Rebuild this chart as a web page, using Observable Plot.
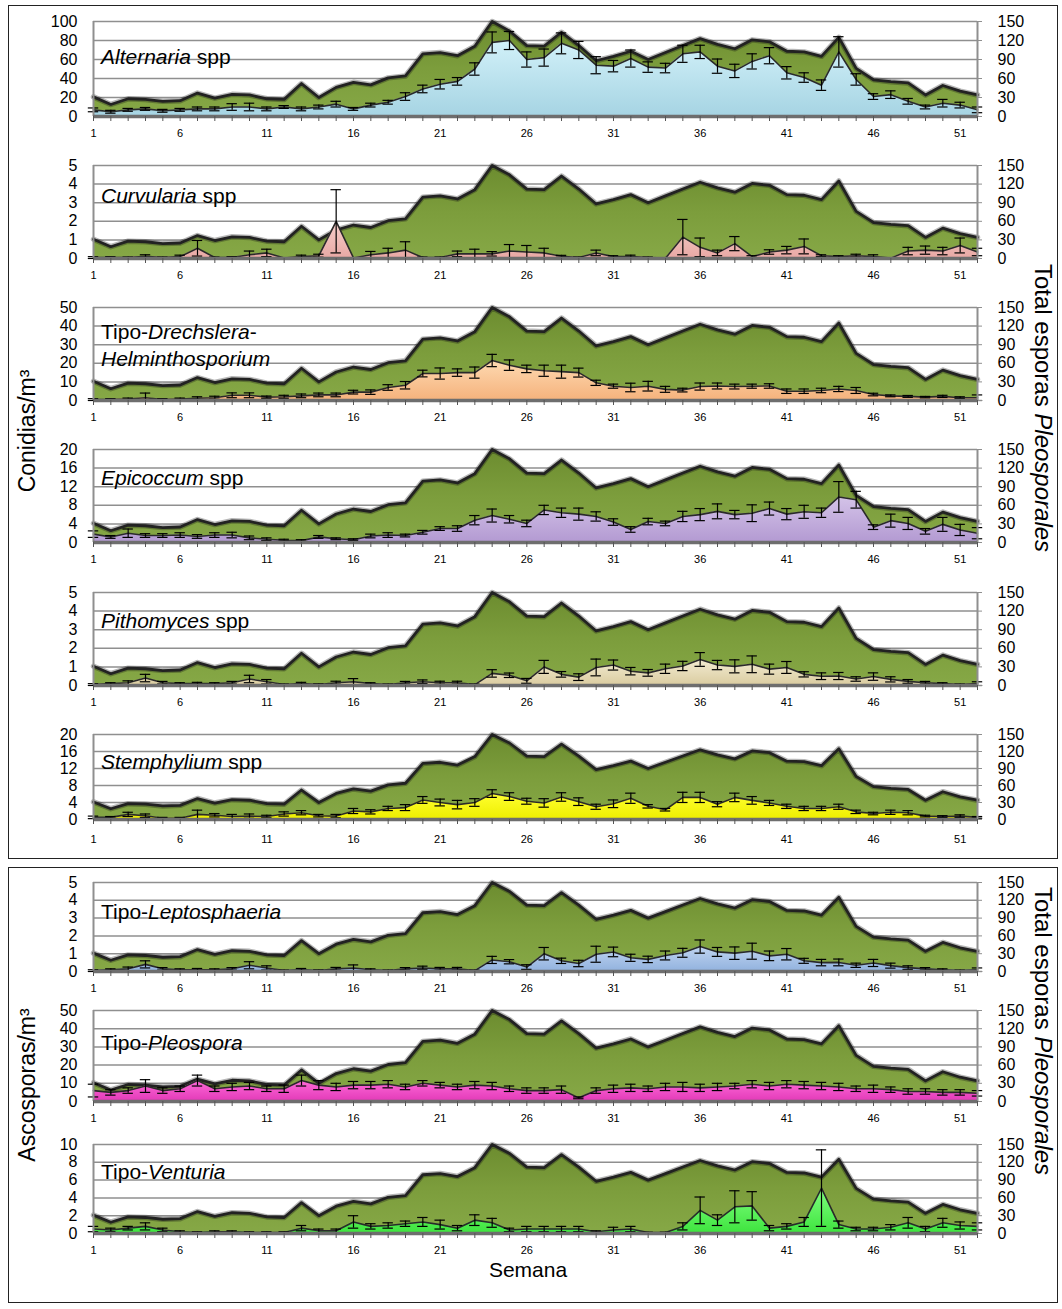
<!DOCTYPE html>
<html><head><meta charset="utf-8">
<script src="https://cdn.jsdelivr.net/npm/d3@7"></script>
<script src="https://cdn.jsdelivr.net/npm/@observablehq/plot@0.6"></script>
<style>
body{margin:0;background:#fff;}
#wrap{position:relative;width:1062px;height:1309px;font-family:"Liberation Sans",Arial,sans-serif;overflow:hidden;background:#fff}
.box{position:absolute;border:1px solid #222;}
.panel{position:absolute;left:0;}
.rotL,.rotR{position:absolute;white-space:nowrap;color:#000;}
.rotL{transform:translate(-50%,-50%) rotate(-90deg);font-size:23px;}
.rotR{transform:translate(-50%,-50%) rotate(90deg);font-size:24px;}
</style></head>
<body>
<svg width="0" height="0" style="position:absolute">
<defs>
<linearGradient id="gGreen" x1="0" y1="0" x2="0" y2="1"><stop offset="0" stop-color="#6c8c2f"/><stop offset="0.5" stop-color="#7c9d3c"/><stop offset="1" stop-color="#86a846"/></linearGradient>
<linearGradient id="g_alt" x1="0" y1="0" x2="0" y2="1"><stop offset="0" stop-color="#d2f1f9"/><stop offset="1" stop-color="#a6d4e3"/></linearGradient>
<linearGradient id="g_cur" x1="0" y1="0" x2="0" y2="1"><stop offset="0" stop-color="#f6d0cc"/><stop offset="1" stop-color="#e8a8a4"/></linearGradient>
<linearGradient id="g_dre" x1="0" y1="0" x2="0" y2="1"><stop offset="0" stop-color="#fedab2"/><stop offset="1" stop-color="#f5b27c"/></linearGradient>
<linearGradient id="g_epi" x1="0" y1="0" x2="0" y2="1"><stop offset="0" stop-color="#d4c3e8"/><stop offset="1" stop-color="#b39ad2"/></linearGradient>
<linearGradient id="g_pit" x1="0" y1="0" x2="0" y2="1"><stop offset="0" stop-color="#f3ecd3"/><stop offset="1" stop-color="#dacca0"/></linearGradient>
<linearGradient id="g_ste" x1="0" y1="0" x2="0" y2="1"><stop offset="0" stop-color="#ffff30"/><stop offset="1" stop-color="#eeee00"/></linearGradient>
<linearGradient id="g_lep" x1="0" y1="0" x2="0" y2="1"><stop offset="0" stop-color="#c0d5f1"/><stop offset="1" stop-color="#92b2de"/></linearGradient>
<linearGradient id="g_ple" x1="0" y1="0" x2="0" y2="1"><stop offset="0" stop-color="#ff6ad8"/><stop offset="1" stop-color="#e23ab8"/></linearGradient>
<linearGradient id="g_ven" x1="0" y1="0" x2="0" y2="1"><stop offset="0" stop-color="#80ff80"/><stop offset="1" stop-color="#3ee43e"/></linearGradient>
</defs></svg>
<div id="wrap">
  <div class="box" style="left:8px;top:5px;width:1048px;height:852px;"></div>
  <div class="box" style="left:8px;top:867px;width:1048px;height:434px;"></div>
  <div class="rotL" style="left:27px;top:431px;">Conidias/m³</div>
  <div class="rotL" style="left:27px;top:1085px;">Ascosporas/m³</div>
  <div class="rotR" style="left:1043px;top:408px;">Total esporas <i>Pleosporales</i></div>
  <div class="rotR" style="left:1043px;top:1031px;">Total esporas <i>Pleosporales</i></div>
  <div style="position:absolute;left:528px;top:1270px;transform:translate(-50%,-50%);font-size:21px;">Semana</div>
</div>
<script>
const weeks = [1,2,3,4,5,6,7,8,9,10,11,12,13,14,15,16,17,18,19,20,21,22,23,24,25,26,27,28,29,30,31,32,33,34,35,36,37,38,39,40,41,42,43,44,45,46,47,48,49,50,51,52];
const weekLabels = [1,6,11,16,21,26,31,36,41,46,51];
const rightTicks = [0,30,60,90,120,150];

// Total Pleosporales spores (right axis)
const totalPleosporales = [31,19,28,27,24,25,37,29,35,34, 28,27,52,30,46,54,50,61,64,99, 101,96,111,150,135,112,111,133,112,88, 95,103,90,101,112,123,114,107,121,118, 103,102,95,125,76,58,55,53,34,49, 40,34];

const alternariaMean = [7,5,7,8,6,7,8,8,10,10, 8,10,8,10,13,8,12,15,21,29, 34,37,50,78,80,60,62,77,70,54, 53,61,52,51,66,68,53,48,58,64, 46,41,33,68,39,21,23,16,10,14, 12,7];
const alternariaSE = [2,1.5,1.5,1.5,1.5,1.5,2,2,3.5,4, 2,1.5,2,2,3,1.5,2,2,4,4, 5,4,6.5,11,9.5,8,9,11,9,9, 6,9,5.5,5,9,7,7.5,7,8,8.5, 6.5,5,5.5,16,6,3,4,3,2,4, 3,3];

const curvulariaMean = [0.05,0.05,0.05,0.12,0.05,0.1,0.55,0.05,0.05,0.2, 0.3,0.03,0.1,0.15,2.0,0.03,0.2,0.3,0.45,0.05, 0.05,0.25,0.25,0.25,0.4,0.35,0.3,0.12,0.05,0.3, 0.1,0.1,0.05,0.02,1.15,0.6,0.3,0.8,0.1,0.35, 0.45,0.65,0.15,0.1,0.15,0.1,0.02,0.4,0.45,0.4, 0.7,0.35];
const curvulariaSE = [0.05,0.05,0.03,0.08,0.03,0.08,0.42,0.03,0.05,0.2, 0.2,0.02,0.08,0.08,1.7,0.02,0.18,0.25,0.45,0.03, 0.03,0.15,0.25,0.12,0.35,0.35,0.25,0.05,0.03,0.15, 0.05,0.08,0.03,0.01,0.95,0.5,0.15,0.38,0.05,0.12, 0.2,0.4,0.05,0.05,0.08,0.1,0.01,0.2,0.22,0.2, 0.4,0.2];

const drechsleraMean = [0.5,0.5,0.8,1.5,0.5,0.8,1.2,1.5,2.8,2.8, 1.8,2,2.5,3,3,4.5,4.5,7,8.2,14.5, 14.5,15,15,21.5,19,17,16,15.5,15,9.5, 7.7,7,7.7,6,5.6,7.5,7.8,7.5,7.7,7.8, 5,5,5.4,6.2,5.4,3.2,2.5,2.2,1.8,2.2, 1.5,1.5];
const drechsleraSE = [0.5,0.5,0.5,2.5,0.5,0.5,0.8,0.8,1.3,1.3, 0.6,0.8,1,1,1,1,1.2,1.5,2,1.8, 3,2,3,3.3,2.8,2,3,3.5,2.4,1.4, 1.1,2.3,2.6,1.6,1,1.9,1.6,1.3,1.1,1.2, 1.2,1.2,1.2,1.4,1.6,0.7,0.5,0.5,0.4,0.6, 0.5,1.5];

const epicoccumMean = [1.8,1.2,2.0,1.5,1.5,1.6,1.3,1.6,1.6,1.0, 0.7,0.5,0.4,1.2,0.8,0.6,1.4,1.6,1.5,2.2, 3.0,3.0,4.8,5.8,5.0,4.1,7.0,6.4,6.1,5.6, 4.4,2.8,4.5,4.1,5.6,6.0,6.7,6.0,6.3,7.3, 6.1,6.6,6.4,9.8,9.2,3.3,4.7,4.1,2.4,3.9, 2.7,2.0];
const epicoccumSE = [0.7,0.3,0.9,0.4,0.4,0.5,0.4,0.5,0.6,0.4, 0.3,0.2,0.2,0.3,0.2,0.2,0.4,0.5,0.3,0.4, 0.4,0.6,1.0,1.4,0.8,0.7,1.0,1.0,1.3,1.0, 0.7,0.6,0.7,0.5,1.1,1.3,1.6,0.9,1.8,1.4, 1.2,1.4,1.0,3.3,1.8,0.5,1.4,1.3,0.6,1.5, 1.2,1.2];

const pithomycesMean = [0.05,0.1,0.15,0.4,0.15,0.1,0.1,0.1,0.15,0.35, 0.2,0.05,0.1,0.05,0.15,0.2,0.1,0.05,0.15,0.2, 0.15,0.15,0.05,0.65,0.55,0.25,1.0,0.6,0.45,0.97, 1.1,0.77,0.68,0.9,1.05,1.4,1.1,1.03,1.14,0.88, 0.97,0.6,0.5,0.51,0.35,0.48,0.33,0.22,0.15,0.1, 0.05,0.1];
const pithomycesSE = [0.05,0.05,0.1,0.2,0.07,0.05,0.07,0.05,0.07,0.2, 0.12,0.03,0.07,0.04,0.08,0.17,0.05,0.03,0.07,0.1, 0.08,0.08,0.03,0.2,0.12,0.13,0.35,0.15,0.18,0.45, 0.27,0.2,0.18,0.25,0.25,0.37,0.25,0.35,0.45,0.27, 0.32,0.14,0.18,0.19,0.12,0.2,0.14,0.1,0.07,0.05, 0.03,0.1];

const stemphyliumMean = [0.5,0.5,1.2,0.9,0.3,0.3,1.2,1.0,0.7,0.8, 0.7,1.3,1.6,0.9,0.8,2.0,1.8,2.6,2.8,4.6, 4.0,3.5,4.0,6.1,5.4,4.3,3.9,5.3,4.2,3.0, 3.7,5.0,3.1,2.3,5.2,5.2,3.6,5.2,4.5,3.9, 3.1,2.6,2.6,3.0,1.8,1.4,1.7,1.6,0.8,0.7, 0.8,0.5];
const stemphyliumSE = [0.3,0.2,0.5,0.4,0.2,0.2,1.0,0.4,0.5,0.5, 0.3,0.5,0.5,0.3,0.4,0.6,0.5,0.5,0.7,0.8, 0.8,1.0,0.9,0.9,0.9,0.7,1.0,1.0,0.9,0.6, 0.9,1.2,0.4,0.3,1.2,1.2,0.6,1.0,0.9,0.6, 0.5,0.5,0.5,0.6,0.4,0.3,0.5,0.5,0.2,0.2, 0.3,0.2];

const leptosphaeriaMean = [0.05,0.1,0.15,0.4,0.15,0.1,0.1,0.1,0.15,0.35, 0.2,0.05,0.1,0.05,0.15,0.2,0.1,0.05,0.15,0.2, 0.15,0.15,0.05,0.65,0.55,0.25,1.0,0.6,0.45,0.97, 1.1,0.77,0.68,0.9,1.05,1.4,1.1,1.03,1.14,0.88, 0.97,0.6,0.5,0.51,0.35,0.48,0.33,0.22,0.15,0.1, 0.05,0.1];
const leptosphaeriaSE = [0.05,0.05,0.1,0.2,0.07,0.05,0.07,0.05,0.07,0.2, 0.12,0.03,0.07,0.04,0.08,0.17,0.05,0.03,0.07,0.1, 0.08,0.08,0.03,0.2,0.12,0.13,0.35,0.15,0.18,0.45, 0.27,0.2,0.18,0.25,0.25,0.37,0.25,0.35,0.45,0.27, 0.32,0.14,0.18,0.19,0.12,0.2,0.14,0.1,0.07,0.05, 0.03,0.1];

const pleosporaMean = [6,5,6,8.5,6,7,11.5,7,8,8.5, 7,7,11.5,9,8,9,9,9.5,8,10, 9,8,9,8.5,7,6,6,6.5,2,6, 7,7.5,7,8,8,7.5,8,8.5,9.5,8.5, 9.5,9,8.5,8,7,7,6.5,5.5,5.5,5, 5,4.5];
const pleosporaSE = [3.5,1.5,1.5,3.5,1.5,1.5,3,1.5,2,2, 1.5,2,3,2.5,2,2,2,2,1.5,1.5, 1.5,1.5,2,2,1.5,1.5,1.5,2,0.5,1.5, 2,2,1.5,2,2.5,2,2,1.5,2,2, 2,2,2,2,1.5,2,1.5,1.5,1.5,1.5, 1.5,1.5];

const venturiaMean = [0.5,0.4,0.6,0.8,0.4,0.2,0.1,0.2,0.2,0.1, 0.1,0.1,0.6,0.3,0.3,1.3,0.8,0.9,1.1,1.3, 1.0,0.6,1.5,1.2,0.4,0.5,0.5,0.5,0.5,0.2, 0.4,0.5,0.1,0.1,0.8,2.6,1.5,3.0,3.1,0.6, 0.8,1.3,5.1,1.0,0.5,0.5,0.7,1.2,0.5,1.2, 0.9,0.8];
const venturiaSE = [0.3,0.2,0.2,0.4,0.2,0.1,0.1,0.1,0.1,0.1, 0.1,0.1,0.3,0.2,0.2,0.7,0.3,0.3,0.3,0.5, 0.5,0.3,0.6,0.5,0.2,0.3,0.3,0.3,0.3,0.1, 0.3,0.3,0.05,0.05,0.4,1.5,0.6,1.8,1.6,0.3, 0.3,0.5,4.3,0.4,0.2,0.2,0.3,0.6,0.3,0.5, 0.4,0.4];

const panels = [
  {id:"alt", top:21, base:116, ticks:[0,20,40,60,80,100], mean:alternariaMean, se:alternariaSE, lines:[[["Alternaria",1],[" spp",0]]], dy:[43], mb:30, pad:8},
  {id:"cur", top:165, base:258, ticks:[0,1,2,3,4,5], mean:curvulariaMean, se:curvulariaSE, lines:[[["Curvularia",1],[" spp",0]]], dy:[38], mb:30, pad:8},
  {id:"dre", top:307, base:400, ticks:[0,10,20,30,40,50], mean:drechsleraMean, se:drechsleraSE, lines:[[["Tipo-",0],["Drechslera",1],["-",0]],[["Helminthosporium",1]]], dy:[32,59], mb:30, pad:8},
  {id:"epi", top:449, base:542, ticks:[0,4,8,12,16,20], mean:epicoccumMean, se:epicoccumSE, lines:[[["Epicoccum",1],[" spp",0]]], dy:[36], mb:30, pad:8},
  {id:"pit", top:592, base:685, ticks:[0,1,2,3,4,5], mean:pithomycesMean, se:pithomycesSE, lines:[[["Pithomyces",1],[" spp",0]]], dy:[36], mb:30, pad:8},
  {id:"ste", top:734, base:819, ticks:[0,4,8,12,16,20], mean:stemphyliumMean, se:stemphyliumSE, lines:[[["Stemphylium",1],[" spp",0]]], dy:[35], mb:34, pad:11},
  {id:"lep", top:882, base:971, ticks:[0,1,2,3,4,5], mean:leptosphaeriaMean, se:leptosphaeriaSE, lines:[[["Tipo-",0],["Leptosphaeria",1]]], dy:[37], mb:30, pad:8},
  {id:"ple", top:1010, base:1101, ticks:[0,10,20,30,40,50], mean:pleosporaMean, se:pleosporaSE, lines:[[["Tipo-",0],["Pleospora",1]]], dy:[40], mb:30, pad:8},
  {id:"ven", top:1144, base:1233, ticks:[0,2,4,6,8,10], mean:venturiaMean, se:venturiaSE, lines:[[["Tipo-",0],["Venturia",1]]], dy:[35], mb:30, pad:8}
];

const FONT = '"Liberation Sans", Arial, sans-serif';
const wrap = document.getElementById("wrap");
const mt = 10;

for (const p of panels) {
  const max = p.ticks[p.ticks.length - 1];
  const rows = weeks.map((w, i) => ({
    week: w,
    total: totalPleosporales[i] * max / 150,
    mean: p.mean[i],
    lo: Math.max(0, p.mean[i] - p.se[i]),
    hi: p.mean[i] + p.se[i]
  }));
  const h = p.base - p.top;
  const svg = Plot.plot({
    width: 1062, height: mt + h + p.mb,
    marginTop: mt, marginBottom: p.mb, marginLeft: 93, marginRight: 85,
    x: {domain: [1, 52], axis: null, label: null},
    y: {domain: [0, max], axis: null, label: null},
    style: {fontFamily: FONT, background: "transparent", overflow: "visible", color: "#000"},
    marks: [
      Plot.gridY(p.ticks, {stroke: "#8f8f8f", strokeOpacity: 1, strokeWidth: 1.5}),
      Plot.areaY(rows, {x: "week", y: "total", fill: "url(#gGreen)"}),
      Plot.line(rows, {x: "week", y: "total", stroke: "#111", strokeWidth: 5.5, strokeOpacity: 0.3, strokeLinejoin: "round"}),
      Plot.line(rows, {x: "week", y: "total", stroke: "#222", strokeWidth: 2.8, strokeLinejoin: "round"}),
      Plot.areaY(rows, {x: "week", y: "mean", fill: `url(#g_${p.id})`}),
      Plot.line(rows, {x: "week", y: "mean", stroke: "#2a2a2a", strokeWidth: 1.6, strokeLinejoin: "round"}),
      Plot.ruleX(rows, {x: "week", y1: "lo", y2: "hi", stroke: "#000", strokeWidth: 1.2}),
      Plot.ruleY(rows, {y: "hi", x1: d => d.week - 0.3, x2: d => d.week + 0.3, stroke: "#000", strokeWidth: 1.2}),
      Plot.ruleY(rows, {y: "lo", x1: d => d.week - 0.3, x2: d => d.week + 0.3, stroke: "#000", strokeWidth: 1.2}),
      Plot.ruleX([1, 52], {stroke: "#8f8f8f", strokeWidth: 2}),
      Plot.ruleY([0], {stroke: "#6e6e6e", strokeWidth: 3.5}),
      Plot.axisY(p.ticks, {anchor: "left", label: null, tickSize: 0, tickPadding: 16, fontSize: 16, tickFormat: d => String(d)}),
      Plot.axisY(p.ticks, {anchor: "right", label: null, tickSize: 4, tickPadding: 16, fontSize: 16, stroke: "#8f8f8f", tickFormat: d => String(Math.round(d * 150 / max))}),
      Plot.axisX(weeks, {anchor: "bottom", label: null, tickSize: 5, tickPadding: p.pad, fontSize: 11, stroke: "#555",
        tickFormat: d => weekLabels.includes(d) ? String(d) : ""})
    ]
  });
  svg.setAttribute("class", "panel");
  svg.style.top = (p.top - mt) + "px";
  const s = d3.select(svg);
  p.lines.forEach((segs, li) => {
    const t = s.append("text")
      .attr("x", 101).attr("y", mt + p.dy[li])
      .attr("text-anchor", "start")
      .attr("font-size", 21).attr("font-family", FONT).attr("fill", "#000")
      .style("white-space", "pre");
    segs.forEach(([txt, it]) => t.append("tspan").attr("font-style", it ? "italic" : "normal").text(txt));
  });
  wrap.appendChild(svg);
}
</script>
</body></html>
